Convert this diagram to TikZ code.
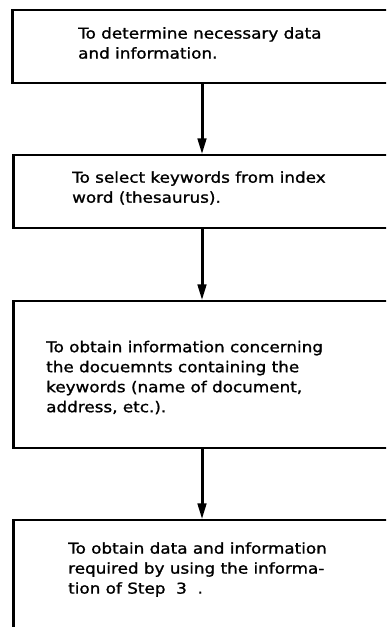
\documentclass[tikz,border=0pt]{standalone}
\usepackage{fontspec}
\setmainfont{DejaVu Sans}[FakeStretch=1.12,FakeBold=1.2]
\usetikzlibrary{arrows.meta}
\begin{document}
\begin{tikzpicture}[x=1pt,y=-1pt,
  stepbox/.style={draw=black, line width=1.3pt, rectangle, inner sep=0pt},
  steptext/.style={anchor=west, align=left, inner sep=0pt,
    font=\fontsize{15}{20}\selectfont},
  flow/.style={line width=3pt, -{Triangle[length=16pt,width=8.5pt]}},
  leftedge/.style={line width=2.6pt}]
\useasboundingbox (0,0) rectangle (386,627);
\clip (0,0) rectangle (386,627);

% step boxes (open to the right, beyond the page edge)
\node[stepbox, minimum width=387pt, minimum height=73pt]  (b1) at (206.5,46.5) {};
\node[stepbox, minimum width=386pt, minimum height=73pt]  (b2) at (207,191.5) {};
\node[stepbox, minimum width=386pt, minimum height=147pt] (b3) at (207,374.5) {};
\node[stepbox, minimum width=386pt, minimum height=140pt] (b4) at (207,590) {};

% heavier left edges
\foreach \b in {b1,b2,b3,b4}
  \draw[leftedge] (\b.north west) -- (\b.south west);

% step texts
\node[steptext] (t1) at (78,43)   {To determine necessary data\\and information.};
\node[steptext] (t2) at (72,188)  {To select keywords from index\\word (thesaurus).};
\node[steptext] (t3) at (46,377.5){To obtain information concerning\\the docuemnts containing the\\keywords (name of document,\\address, etc.).};
\node[steptext] (t4) at (68,569.5){To obtain data and information\\required by using the informa-\\tion of Step\ \ 3\ \ .};

% connectors
\coordinate (ax) at (202,0);
\draw[flow] (ax |- b1.south) -- (ax |- b2.north);
\draw[flow] (ax |- b2.south) -- (ax |- b3.north);
\draw[flow] (ax |- b3.south) -- (ax |- b4.north);
\end{tikzpicture}
\end{document}
